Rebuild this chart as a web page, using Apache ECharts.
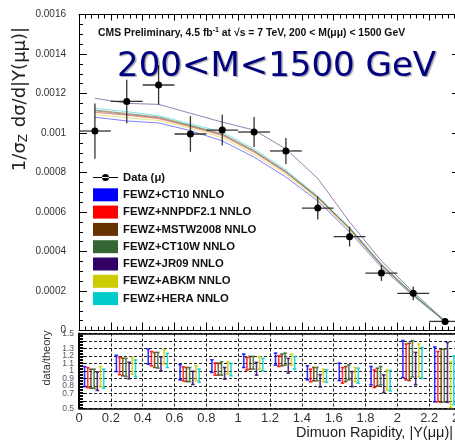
<!DOCTYPE html>
<html><head><meta charset="utf-8">
<script src="https://cdn.jsdelivr.net/npm/echarts@6/dist/echarts.min.js"></script>
<style>html,body{margin:0;padding:0;background:#fff}#c{width:455px;height:442px}</style>
</head><body><div id="c"></div>
<script>
// ---- data ----
const rapidity = [0.1, 0.3, 0.5, 0.7, 0.9, 1.1, 1.3, 1.5, 1.7, 1.9, 2.1, 2.3];
const dataVal = [0.00101, 0.00116, 0.001243, 0.000995, 0.001015, 0.001005, 0.000909, 0.00062, 0.000475, 0.000291, 0.000188, 0.000046];
const dataErr = [0.00014, 0.00011, 0.0001, 0.00009, 0.000078, 0.000076, 0.000066, 0.000058, 0.00005, 0.00004, 0.000035, 0.00001];

const pdfNames = ['FEWZ+CT10 NNLO', 'FEWZ+NNPDF2.1 NNLO', 'FEWZ+MSTW2008 NNLO', 'FEWZ+CT10W NNLO', 'FEWZ+JR09 NNLO', 'FEWZ+ABKM NNLO', 'FEWZ+HERA NNLO'];
const pdfColors = ['#0000ff', '#ff0000', '#663300', '#336633', '#330066', '#cccc00', '#00cccc'];

const thCT10  = [0.001080, 0.001061, 0.001051, 0.001012, 0.000960, 0.000878, 0.000777, 0.000656, 0.000499, 0.000320, 0.000175, 0.000045];
const thNNPDF = [0.001105, 0.001090, 0.001073, 0.001032, 0.000987, 0.000903, 0.000799, 0.000671, 0.000514, 0.000330, 0.000181, 0.0000447];
const thMSTW  = [0.001116, 0.001099, 0.001081, 0.001039, 0.000996, 0.000911, 0.000806, 0.000676, 0.000519, 0.000334, 0.000183, 0.0000446];
const thCT10W = [0.001112, 0.001094, 0.001077, 0.001036, 0.000992, 0.000907, 0.000802, 0.000674, 0.000517, 0.000332, 0.000182, 0.0000447];
const thJR09  = [0.001176, 0.001150, 0.001145, 0.001100, 0.001055, 0.001015, 0.000919, 0.000770, 0.000550, 0.000352, 0.000195, 0.000048];
const thABKM  = [0.001093, 0.001077, 0.001064, 0.001024, 0.000976, 0.000892, 0.000790, 0.000665, 0.000508, 0.000326, 0.000178, 0.0000448];
const thHERA  = [0.001125, 0.001108, 0.001088, 0.001046, 0.001005, 0.000919, 0.000813, 0.000681, 0.000524, 0.000337, 0.000185, 0.0000446];
const theory = [thCT10, thNNPDF, thMSTW, thCT10W, thJR09, thABKM, thHERA];

// data/theory ratio ranges [low, high] per bin
const rCT10Lo  = [0.790, 0.990, 1.090, 0.880, 0.979, 1.046, 1.077, 0.880, 0.871, 0.813, 0.910, 0.587];
const rCT10Hi  = [1.058, 1.208, 1.292, 1.085, 1.149, 1.225, 1.238, 1.068, 1.103, 1.059, 1.406, 1.320];
const rNNPDFLo = [0.777, 0.950, 1.068, 0.866, 0.943, 1.010, 1.059, 0.855, 0.835, 0.777, 0.880, 0.587];
const rNNPDFHi = [1.045, 1.180, 1.260, 1.055, 1.104, 1.180, 1.202, 1.023, 1.045, 1.014, 1.360, 1.260];
const rMSTWLo  = [0.768, 0.934, 1.046, 0.857, 0.943, 1.023, 1.068, 0.867, 0.857, 0.799, 0.870, 0.580];
const rMSTWHi  = [1.023, 1.171, 1.247, 1.045, 1.104, 1.193, 1.225, 1.046, 1.059, 1.036, 1.370, 1.290];
const rCT10WLo = [0.766, 0.925, 1.037, 0.857, 0.943, 1.023, 1.077, 0.867, 0.880, 0.813, 0.920, 0.585];
const rCT10WHi = [1.023, 1.167, 1.247, 1.045, 1.122, 1.193, 1.238, 1.046, 1.081, 1.059, 1.406, 1.290];
const rJR09Lo  = [0.739, 0.895, 1.001, 0.818, 0.889, 0.943, 0.970, 0.785, 0.790, 0.710, 0.815, 0.580];
const rJR09Hi  = [0.985, 1.115, 1.189, 0.995, 1.046, 1.113, 1.167, 0.950, 0.992, 0.947, 1.247, 1.381];
const rABKMLo  = [0.790, 0.956, 1.090, 0.870, 0.956, 1.023, 1.077, 0.857, 0.857, 0.745, 0.920, 0.510];
const rABKMHi  = [1.058, 1.180, 1.283, 1.068, 1.122, 1.189, 1.225, 1.023, 1.045, 1.014, 1.360, 1.120];
const rHERALo  = [0.768, 0.924, 1.046, 0.850, 0.934, 1.001, 1.023, 0.848, 0.835, 0.732, 0.900, 0.550];
const rHERAHi  = [1.023, 1.146, 1.234, 1.025, 1.100, 1.167, 1.193, 1.014, 1.036, 1.005, 1.315, 1.200];
const ratioLo = [rCT10Lo, rNNPDFLo, rMSTWLo, rCT10WLo, rJR09Lo, rABKMLo, rHERALo];
const ratioHi = [rCT10Hi, rNNPDFHi, rMSTWHi, rCT10WHi, rJR09Hi, rABKMHi, rHERAHi];

const xTicks = [0, 0.2, 0.4, 0.6, 0.8, 1, 1.2, 1.4, 1.6, 1.8, 2, 2.2, 2.4];

// ---- layout constants ----
const binHalf = 0.1;
const ratioOffsets = [-0.065, -0.045, -0.025, -0.005, 0.015, 0.035, 0.055];

const chart = echarts.init(document.getElementById('c'), null, {renderer: 'canvas'});

function hexA(hex, a) {
  const n = parseInt(hex.slice(1), 16);
  return 'rgba(' + (n >> 16) + ',' + ((n >> 8) & 255) + ',' + (n & 255) + ',' + a + ')';
}

const series = [];
theory.forEach((arr, k) => {
  series.push({
    name: pdfNames[k], type: 'line', xAxisIndex: 0, yAxisIndex: 0,
    data: rapidity.map((x, i) => [x, arr[i]]),
    showSymbol: false, symbol: 'none', silent: true, z: 2,
    itemStyle: {color: pdfColors[k]},
    lineStyle: {color: hexA(pdfColors[k], 0.5), width: 1}
  });
});
series.push({
  name: 'Data (μ)', type: 'custom', xAxisIndex: 0, yAxisIndex: 0, z: 5,
  itemStyle: {color: '#000'},
  data: rapidity.map((x, i) => [x, dataVal[i], dataErr[i]]),
  renderItem: function (params, api) {
    const x = api.value(0), y = api.value(1), e = api.value(2);
    const c = api.coord([x, y]);
    const t = api.coord([x, y + e]);
    const b = api.coord([x, y - e]);
    const l = api.coord([x - binHalf, y]);
    const r = api.coord([x + binHalf, y]);
    const st = {stroke: '#333', lineWidth: 1.3};
    return {type: 'group', children: [
      {type: 'line', shape: {x1: c[0], y1: t[1], x2: c[0], y2: b[1]}, style: st},
      {type: 'line', shape: {x1: l[0], y1: c[1], x2: r[0], y2: c[1]}, style: st},
      {type: 'circle', shape: {cx: c[0], cy: c[1], r: 3.5}, style: {fill: '#000'}}
    ]};
  }
});
ratioLo.forEach((lo, k) => {
  const hi = ratioHi[k];
  series.push({
    name: 'ratio ' + pdfNames[k], type: 'custom', xAxisIndex: 2, yAxisIndex: 2, z: 3,
    itemStyle: {color: pdfColors[k]},
    data: rapidity.map((x, i) => [x + ratioOffsets[k], lo[i], hi[i]]),
    renderItem: function (params, api) {
      const x = api.value(0);
      const a = api.coord([x, api.value(1)]);
      const b = api.coord([x, api.value(2)]);
      const st = {stroke: hexA(pdfColors[k], 0.8), lineWidth: 1.6};
      return {type: 'group', children: [
        {type: 'line', shape: {x1: a[0], y1: a[1], x2: b[0], y2: b[1]}, style: st},
        {type: 'line', shape: {x1: a[0] - 1.8, y1: a[1], x2: a[0] + 1.8, y2: a[1]}, style: st},
        {type: 'line', shape: {x1: b[0] - 1.8, y1: b[1], x2: b[0] + 1.8, y2: b[1]}, style: st}
      ]};
    }
  });
});

const dataIcon = 'path://M0,0h0.05v0.05h-0.05z M24.95,12.95h0.05v0.05h-0.05z M0,6h25v1.1h-25z M9,6.5a3.5,3.5 0 1,0 7,0a3.5,3.5 0 1,0 -7,0z';

const tickCommon = {show: true, inside: true, length: 8, lineStyle: {color: '#000', width: 1}};
const minorCommon = {show: true, splitNumber: 5, length: 4, lineStyle: {color: '#000', width: 1}};
const lineCommon = {show: true, onZero: false, lineStyle: {color: '#000', width: 1}};

const option = {
  animation: false,
  backgroundColor: '#fff',
  grid: [
    {left: 79, top: 14.5, width: 382, height: 316, show: false, outerBoundsMode: 'none', containLabel: false},
    {left: 79, top: 333.5, width: 382, height: 74.8, show: false, outerBoundsMode: 'none', containLabel: false}
  ],
  xAxis: [
    {gridIndex: 0, type: 'value', min: 0, max: 2.4, interval: 0.2, position: 'bottom',
     axisLine: lineCommon, axisTick: tickCommon, minorTick: minorCommon, axisLabel: {show: false}, splitLine: {show: false}},
    {gridIndex: 0, type: 'value', min: 0, max: 2.4, interval: 0.2, position: 'top',
     axisLine: lineCommon, axisTick: {...tickCommon, length: 6}, minorTick: {...minorCommon, length: 4}, axisLabel: {show: false}, splitLine: {show: false}},
    {gridIndex: 1, type: 'value', min: 0, max: 2.4, interval: 0.2, position: 'bottom',
     axisLine: {show: true, onZero: false, lineStyle: {color: '#000', width: 1.5}},
     axisTick: {show: false},
     axisLabel: {show: true, margin: 4, fontFamily: 'Liberation Sans', fontSize: 13, color: '#333',
       showMinLabel: true, showMaxLabel: true, formatter: v => String(+v.toFixed(1))},
     splitLine: {show: true, lineStyle: {color: '#222', type: [3, 2], width: 1}}},
    {gridIndex: 1, type: 'value', min: 0, max: 2.4, interval: 0.2, position: 'top',
     axisLine: {show: true, onZero: false, lineStyle: {color: '#000', width: 1.5}},
     axisTick: {show: false}, axisLabel: {show: false}, splitLine: {show: false}}
  ],
  yAxis: [
    {gridIndex: 0, type: 'value', min: 0, max: 0.0016, interval: 0.0002, position: 'left',
     axisLine: lineCommon, axisTick: tickCommon, minorTick: {...minorCommon, splitNumber: 4},
     axisLabel: {show: true, margin: 13, fontFamily: 'Liberation Sans', fontSize: 10, color: '#333', showMinLabel: true, showMaxLabel: true},
     splitLine: {show: false}},
    {gridIndex: 0, type: 'value', min: 0, max: 0.0016, interval: 0.0002, position: 'right',
     axisLine: lineCommon, axisTick: {...tickCommon, length: 9}, minorTick: {...minorCommon, splitNumber: 4},
     axisLabel: {show: false}, splitLine: {show: false}},
    {gridIndex: 1, type: 'value', min: 0.5, max: 1.5, interval: 0.1, position: 'left',
     axisLine: {show: true, onZero: false, lineStyle: {color: '#000', width: 2}},
     axisTick: {show: true, inside: true, length: 7, lineStyle: {color: '#000'}},
     minorTick: {show: true, splitNumber: 5, length: 4, lineStyle: {color: '#000'}},
     axisLabel: {show: true, margin: 5, fontFamily: 'Liberation Sans', fontSize: 8.5, color: '#556',
       showMinLabel: true, showMaxLabel: true, hideOverlap: false, formatter: v => String(+v.toFixed(1))},
     splitLine: {show: true, lineStyle: {color: '#222', type: [3, 2], width: 1}}},
    {gridIndex: 1, type: 'value', min: 0.5, max: 1.5, interval: 0.1, position: 'right',
     axisLine: lineCommon, axisTick: {show: false}, axisLabel: {show: false}, splitLine: {show: false}}
  ],
  legend: {
    orient: 'vertical', left: 93, top: 171, itemWidth: 25, itemHeight: 13, itemGap: 4.3,
    selectedMode: false, padding: 0,
    textStyle: {fontFamily: 'Liberation Sans', fontWeight: 'bold', fontSize: 11.3, color: '#111', lineHeight: 13},
    data: [{name: 'Data (μ)', icon: dataIcon}].concat(pdfNames.map(n => ({name: n, icon: 'rect'})))
  },
  title: [
    {text: 'CMS Preliminary, 4.5 fb{s|-1} at √s = 7 TeV, 200 < M(μμ) < 1500 GeV', left: 98, top: 27, padding: 0,
     textStyle: {fontFamily: 'Liberation Sans', fontWeight: 'bold', fontSize: 10.4, color: '#111', lineHeight: 12,
       rich: {s: {fontSize: 7, fontWeight: 'bold', verticalAlign: 'top', lineHeight: 9, padding: [0, 0, 3, 0]}}}},
    {text: '200<M<1500 GeV', left: 117, top: 47, padding: 0,
     textStyle: {fontFamily: 'DejaVu Sans', fontWeight: 'normal', fontSize: 34, color: '#000080', lineHeight: 40,
       textShadowColor: 'rgba(0,0,0,0.35)', textShadowOffsetX: 1.5, textShadowOffsetY: 1.5, textShadowBlur: 1}}
  ],
  graphic: [
    {type: 'text', x: 20, y: 99, rotation: Math.PI / 2,
     style: {text: '1/σ{z|Z} dσ/d|Y(μμ)|', font: '18px "DejaVu Sans"', fill: '#222', textAlign: 'center', textVerticalAlign: 'middle',
       rich: {z: {font: '12px "DejaVu Sans"', fill: '#222', padding: [8, 1, 0, 0]}}}},
    {type: 'text', x: 47, y: 358, rotation: Math.PI / 2,
     style: {text: 'data/theory', font: '11px "Liberation Sans"', fill: '#333', textAlign: 'center', textVerticalAlign: 'middle'}},
    {type: 'text', x: 453, y: 433,
     style: {text: 'Dimuon Rapidity, |Y(μμ)|', font: '14.5px "Liberation Sans"', fill: '#222', textAlign: 'right', textVerticalAlign: 'middle'}}
  ],
  series: series
};
chart.setOption(option);
</script>
</body></html>
